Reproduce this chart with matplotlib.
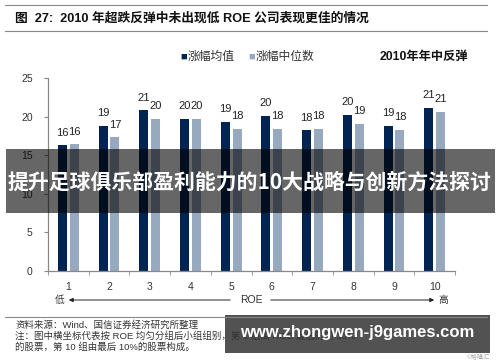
import matplotlib
matplotlib.use("Agg")
import matplotlib.pyplot as plt
from matplotlib.patches import Rectangle
import numpy as np

plt.rcParams['font.family'] = ['Liberation Sans', 'Noto Sans CJK SC', 'DejaVu Sans']

# data
groups = ['1', '2', '3', '4', '5', '6', '7', '8', '9', '10']
mean_rise = [16.3, 18.8, 20.8, 19.7, 19.3, 20.1, 18.2, 20.2, 18.8, 21.1]
median_rise = [16.4, 17.3, 19.7, 19.7, 18.4, 18.4, 18.4, 19.1, 18.3, 20.6]
series_names = ['涨幅均值', '涨幅中位数']
y_ticks = [0, 5, 10, 15, 20, 25]

title = '图  27:  2010 年超跌反弹中未出现低 ROE 公司表现更佳的情况'
subtitle = '2010年年中反弹'
banner = '提升足球俱乐部盈利能力的10大战略与创新方法探讨'
source_lines = ['资料来源：Wind、国信证券经济研究所整理',
                '注：图中横坐标代表按 ROE 均匀分组后小组组别，第 1 组由 ROE 最低的前 10%',
                '的股票，第 10 组由最后 10%的股票构成。']
site = 'www.zhongwen-j9games.com'

dark = '#022452'
light = '#97a9be'
W, H = 500, 362


def fx(px):
    return px / W


def fy(py):
    return 1 - py / H


fig = plt.figure(figsize=(5, 3.62), dpi=100)

# header
fig.add_artist(plt.Line2D([fx(5), fx(487)], [fy(4.5), fy(4.5)], color='#888888', lw=0.8))
fig.add_artist(plt.Line2D([fx(5), fx(487)], [fy(30.5), fy(30.5)], color='#888888', lw=0.8))
fig.text(fx(15), fy(18), title, fontsize=9.2, fontweight='bold', va='center', color='#111111')

# legend and subtitle
fig.text(fx(180), fy(57), '■', fontsize=8, color=dark, va='center')
fig.text(fx(188), fy(57), series_names[0], fontsize=8.5, va='center', color='#333333')
fig.text(fx(248), fy(57), '■', fontsize=8, color=light, va='center')
fig.text(fx(256), fy(57), series_names[1], fontsize=8.5, va='center', color='#333333')
fig.text(fx(380), fy(57), subtitle, fontsize=8.8, fontweight='bold', va='center', color='#111111')

ax = fig.add_axes([fx(48), fy(271), fx(455) - fx(48), fy(78) - fy(271)])
x = np.arange(len(groups))
w = 0.22
off = 0.145
b1 = ax.bar(x - off, mean_rise, w, color=dark)
b2 = ax.bar(x + off, median_rise, w, color=light)
for bars, vals in ((b1, mean_rise), (b2, median_rise)):
    for rect, v in zip(bars, vals):
        ax.annotate(f'{v:.0f}', (rect.get_x() + rect.get_width() / 2, v),
                    xytext=(0, 5.5), textcoords='offset points',
                    ha='center', va='bottom', fontsize=8, color='#222222')

ax.set_xlim(-0.5, len(groups) - 0.5)
ax.set_ylim(0, 25)
ax.set_yticks(y_ticks)
ax.set_xticks(x)
ax.set_xticklabels(groups)
ax.set_xticks(np.arange(-0.5, len(groups)), minor=True)
ax.tick_params(axis='x', which='major', length=0, pad=8, labelsize=7.5, labelcolor='#333333')
ax.tick_params(axis='x', which='minor', length=3, color='#888888', direction='out')
ax.tick_params(axis='y', length=3, color='#888888', labelsize=7.5, labelcolor='#333333', pad=8)
for s in ('top', 'right'):
    ax.spines[s].set_visible(False)
for s in ('left', 'bottom'):
    ax.spines[s].set_color('#888888')
    ax.spines[s].set_linewidth(0.9)

# ROE arrow below axis
fig.text(fx(60), fy(300), '低', fontsize=7, va='center', ha='center', color='#333333')
fig.text(fx(443), fy(300), '高', fontsize=7, va='center', ha='center', color='#333333')
fig.text(fx(251), fy(300), 'ROE', fontsize=7.5, va='center', ha='center', color='#333333')
fig.add_artist(matplotlib.patches.FancyArrowPatch((fx(233), fy(300)), (fx(66), fy(300)),
               transform=fig.transFigure, arrowstyle='-|>', mutation_scale=6, color='#222222', lw=0.7))
fig.add_artist(matplotlib.patches.FancyArrowPatch((fx(268), fy(300)), (fx(437), fy(300)),
               transform=fig.transFigure, arrowstyle='-|>', mutation_scale=6, color='#222222', lw=0.7))

# source notes
fig.add_artist(plt.Line2D([fx(5), fx(487)], [fy(316.5), fy(316.5)], color='#888888', lw=0.8))
for i, line in enumerate(source_lines):
    fig.text(fx(15), fy(325 + i * 11), line, fontsize=6.8, va='center', color='#333333')
fig.text(fx(490), fy(357), '©格隆汇', fontsize=4.5, ha='right', va='center', color='#aaaaaa')

# overlay banners
fig.add_artist(Rectangle((fx(6), fy(213)), fx(495) - fx(6), fy(149) - fy(213),
                         transform=fig.transFigure, color='black', alpha=0.6, lw=0))
fig.text(fx(250), fy(182), banner, fontsize=15, fontweight='bold', color='white',
         ha='center', va='center', family=['Noto Sans CJK SC', 'DejaVu Sans'])
fig.add_artist(Rectangle((fx(225), fy(353)), fx(490) - fx(225), fy(315) - fy(353),
                         transform=fig.transFigure, color='black', alpha=0.68, lw=0))
fig.text(fx(357), fy(333), site, fontsize=12, fontweight='bold', color='white',
         ha='center', va='center')

fig.savefig('out.png', dpi=100)
